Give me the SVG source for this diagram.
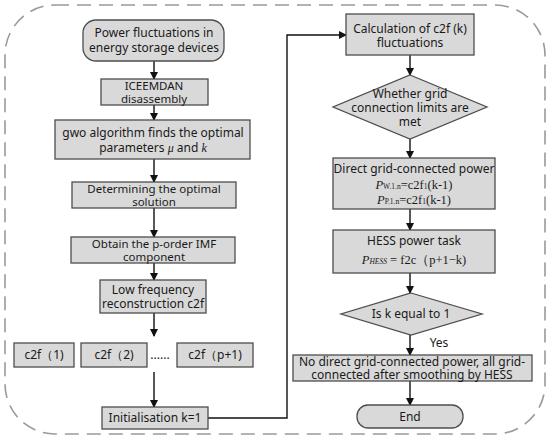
<svg xmlns="http://www.w3.org/2000/svg" width="550" height="439" viewBox="0 0 550 439">
<style>
.box{fill:#d9d9d9;stroke:#4d4d4d;stroke-width:1.3}
.t{font-family:"Noto Sans","Open Sans",sans-serif;font-size:12px;fill:#1a1a1a;text-anchor:middle}
.s{font-size:11.5px}
.m{font-family:"Liberation Serif",serif;font-size:12.5px;fill:#1a1a1a;text-anchor:middle}
.c{stroke:#111;stroke-width:1.4;fill:none}
</style>
<defs>
<marker id="ah" markerWidth="8" markerHeight="8" refX="7" refY="4" orient="auto" markerUnits="userSpaceOnUse">
<path d="M0,0 L8,4 L0,8 Z" fill="#111"/>
</marker>
</defs>
<rect x="5" y="5" width="540" height="429" rx="50" ry="50" fill="none" stroke="#9a9a9a" stroke-width="1.6" stroke-dasharray="14,8"/>

<g id="connectors">
<line class="c" x1="154" y1="61" x2="154" y2="79" marker-end="url(#ah)"/>
<line class="c" x1="154" y1="105" x2="154" y2="120" marker-end="url(#ah)"/>
<line class="c" x1="154" y1="159" x2="154" y2="182" marker-end="url(#ah)"/>
<line class="c" x1="154" y1="208" x2="154" y2="237" marker-end="url(#ah)"/>
<line class="c" x1="154" y1="263" x2="154" y2="280" marker-end="url(#ah)"/>
<line class="c" x1="154" y1="313" x2="154" y2="336" marker-end="url(#ah)"/>
<line class="c" x1="154" y1="372" x2="154" y2="407" marker-end="url(#ah)"/>
<polyline class="c" points="208,418 287,418 287,35 346,35" marker-end="url(#ah)"/>
<line class="c" x1="410" y1="55" x2="410" y2="75" marker-end="url(#ah)"/>
<line class="c" x1="410" y1="139" x2="410" y2="158" marker-end="url(#ah)"/>
<line class="c" x1="410" y1="209" x2="410" y2="230" marker-end="url(#ah)"/>
<line class="c" x1="410" y1="273" x2="410" y2="293" marker-end="url(#ah)"/>
<line class="c" x1="410" y1="335" x2="410" y2="355" marker-end="url(#ah)"/>
<line class="c" x1="410" y1="381" x2="410" y2="405" marker-end="url(#ah)"/>
<text class="t" x="439" y="347">Yes</text>
</g>

<g id="n1">
<rect class="box" x="83" y="20" width="141" height="41" rx="13"/>
<text class="t" x="154" y="37" font-size="12.5">Power fluctuations in<tspan x="154" dy="15">energy storage devices</tspan></text>
</g>
<g id="n2">
<rect class="box" x="101" y="79" width="107" height="26"/>
<text class="t s" x="154" y="90">ICEEMDAN<tspan x="154" dy="13">disassembly</tspan></text>
</g>
<g id="n3">
<rect class="box" x="55" y="120" width="195" height="39"/>
<text class="t" x="153" y="137">gwo algorithm finds the optimal<tspan x="153" dy="15">parameters <tspan font-family="Liberation Serif" font-style="italic">μ</tspan> and <tspan font-family="Liberation Serif" font-style="italic">k</tspan></tspan></text>
</g>
<g id="n4">
<rect class="box" x="72" y="182" width="164" height="26"/>
<text class="t s" x="154" y="193">Determining the optimal<tspan x="154" dy="13">solution</tspan></text>
</g>
<g id="n5">
<rect class="box" x="71" y="237" width="164" height="26"/>
<text class="t s" x="154" y="248">Obtain the p-order IMF<tspan x="154" dy="13">component</tspan></text>
</g>
<g id="n6">
<rect class="box" x="100" y="280" width="106" height="33"/>
<text class="t" x="153" y="294">Low frequency<tspan x="153" dy="14">reconstruction c2f</tspan></text>
</g>
<g id="c1">
<rect class="box" x="14" y="343" width="60" height="24"/>
<text class="t" x="44" y="359">c2f（1)</text>
</g>
<g id="c2">
<rect class="box" x="81" y="343" width="66" height="24"/>
<text class="t" x="114" y="359">c2f（2)</text>
</g>
<text class="t" x="160" y="359" font-size="8">......</text>
<g id="c3">
<rect class="box" x="177" y="343" width="76" height="24"/>
<text class="t" x="215" y="359">c2f（p+1)</text>
</g>
<g id="init">
<rect class="box" x="102" y="407" width="106" height="22"/>
<text class="t" x="155" y="422">Initialisation k=1</text>
</g>

<g id="calc">
<rect class="box" x="346" y="14" width="128" height="41"/>
<text class="t" x="410" y="33">Calculation of c2f (k)<tspan x="410" dy="14">fluctuations</tspan></text>
</g>
<g id="d1">
<polygon class="box" points="410,75 487,107 410,139 333,107"/>
<text class="t" x="410" y="98">Whether grid<tspan x="410" dy="14">connection limits are</tspan><tspan x="410" dy="14">met</tspan></text>
</g>
<g id="direct">
<rect class="box" x="333" y="158" width="162" height="51"/>
<text class="t" x="414" y="173">Direct grid-connected power</text>
<text class="m" x="414" y="189"><tspan font-style="italic">P</tspan><tspan font-size="7.5">W.1.n</tspan>=c2f<tspan font-size="7.5">1</tspan>(k-1)<tspan x="414" dy="15" font-style="italic">P</tspan><tspan font-size="7.5">P.1.n</tspan>=c2f<tspan font-size="7.5">1</tspan>(k-1)</text>
</g>
<g id="hess">
<rect class="box" x="333" y="230" width="162" height="43"/>
<text class="t" x="414" y="245">HESS power task</text>
<text class="m" x="414" y="264"><tspan font-style="italic">P</tspan><tspan font-size="7.5" font-style="italic">HESS</tspan> = f2c（p+1−k)</text>
</g>
<g id="d2">
<polygon class="box" points="411,293 482,314 411,335 341,314"/>
<text class="t" x="411" y="318">Is k equal to 1</text>
</g>
<g id="nodirect">
<rect class="box" x="293" y="355" width="239" height="26"/>
<text class="t" x="412" y="366">No direct grid-connected power, all grid-<tspan x="412" dy="13">connected after smoothing by HESS</tspan></text>
</g>
<g id="end">
<rect class="box" x="357" y="405" width="106" height="23" rx="11"/>
<text class="t" x="410" y="421">End</text>
</g>
</svg>
